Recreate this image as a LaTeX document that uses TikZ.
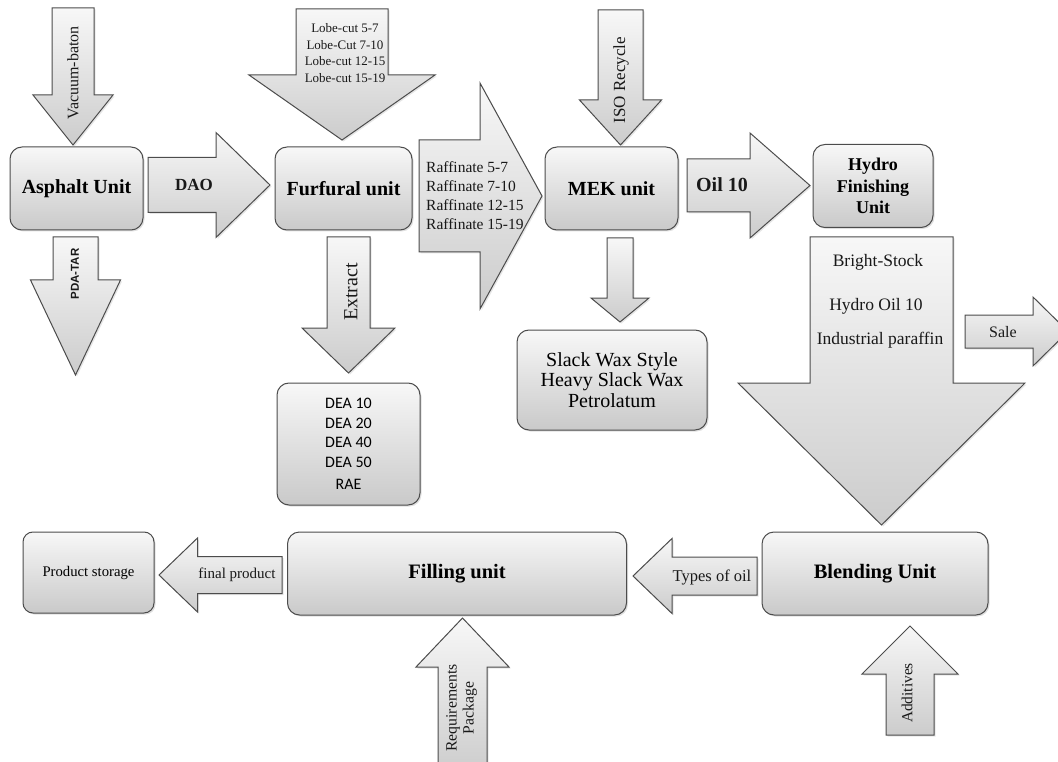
\documentclass[tikz,border=0pt]{standalone}
\usepackage{fontspec}
\setmainfont{Liberation Serif}
\newfontfamily\arialfont{Liberation Sans}
\newfontfamily\calibrifont{Carlito}
\usetikzlibrary{shadows}

\tikzset{
  unit/.style={draw=black!70, line width=1pt, rounded corners=12pt,
    top color=gray!6, bottom color=gray!42, align=center, inner sep=0pt,
    drop shadow={opacity=0.25, shadow xshift=1.5pt, shadow yshift=-1.5pt}},
  blockarrow/.style={draw=black!70, line width=1pt, line join=miter,
    top color=gray!6, bottom color=gray!40,
    drop shadow={opacity=0.2, shadow xshift=1.5pt, shadow yshift=-1.5pt}},
  lbl/.style={inner sep=0pt, align=center, text=black!90},
}
\newcommand\fs[2]{\fontsize{#1}{#2}\selectfont}
% block arrows: centre line, tail, head base, tip, shaft half width, head half width
\newcommand\varrow[6]{\path[blockarrow] ({#1-#5},#2) -- ({#1-#5},#3) -- ({#1-#6},#3)
  -- (#1,#4) -- ({#1+#6},#3) -- ({#1+#5},#3) -- ({#1+#5},#2) -- cycle;}
\newcommand\harrow[6]{\path[blockarrow] (#2,{#1-#5}) -- (#3,{#1-#5}) -- (#3,{#1-#6})
  -- (#4,#1) -- (#3,{#1+#6}) -- (#3,{#1+#5}) -- (#2,{#1+#5}) -- cycle;}

\begin{document}
\begin{tikzpicture}[x=1pt,y=-1pt]
\useasboundingbox (0,0) rectangle (1058,762);
\clip (0,0) rectangle (1058,762);

% process units
\node[unit, minimum width=133pt, minimum height=83pt, font=\fs{20}{24}\bfseries]
  (asphalt) at (76.5,188.5) {Asphalt Unit};
\node[unit, minimum width=137pt, minimum height=83pt, font=\fs{20}{24}\bfseries]
  (furfural) at (343.5,188.5) {Furfural unit};
\node[unit, minimum width=133pt, minimum height=83pt, font=\fs{20}{24}\bfseries]
  (mek) at (611.5,188.5) {MEK unit};
\node[unit, minimum width=120pt, minimum height=83pt, font=\fs{18}{21.5}\bfseries]
  (hydro) at (873,186) {Hydro\\Finishing\\Unit};
\node[unit, minimum width=143pt, minimum height=122pt, font=\calibrifont\fs{16}{19.5}]
  (dea) at (348.5,444) {DEA 10\\DEA 20\\DEA 40\\DEA 50\\[3pt]RAE};
\node[unit, minimum width=190pt, minimum height=100pt, font=\fs{20}{20.5}]
  (wax) at (612,380) {Slack Wax Style\\Heavy Slack Wax\\Petrolatum};
\node[unit, rounded corners=10pt, minimum width=131pt, minimum height=81pt, font=\fs{14.7}{17}]
  (storage) at (88.5,572.5) {Product storage};
\node[unit, minimum width=339pt, minimum height=83pt, font=\fs{20.5}{24}\bfseries]
  (filling) at (457,573.5) {Filling unit};
\node[unit, minimum width=226pt, minimum height=83pt, font=\fs{20.5}{24}\bfseries]
  (blending) at (875,573.5) {Blending Unit};

% flows
\varrow{73}{8}{95}{145}{21}{40}
\varrow{75.5}{237}{280}{375}{22.5}{45}
\harrow{185}{148}{216}{270}{27.5}{52.5}
\varrow{342}{9}{75}{140}{46}{93}
\harrow{196}{419}{480}{542}{56}{113}
\varrow{348.5}{237}{328}{373}{21.5}{46.5}
\varrow{620.5}{10}{100}{145}{22.5}{41}
\harrow{185.5}{687}{750}{810}{26.5}{52.5}
\varrow{620}{238}{298}{322}{13}{29}
\varrow{881.5}{237}{383}{525}{71.5}{143.5}
\harrow{331.5}{965}{1033}{1068}{16.5}{34.5}
\harrow{575}{282}{197.5}{159}{18.5}{37}
\harrow{576}{757}{672}{633}{19}{37.5}
\varrow{462.5}{775}{667}{618}{24.5}{46.5}
\varrow{910}{735}{674}{626}{24}{48}

% flow labels
\node[lbl, rotate=90, font=\fs{16}{19}] (vacuum) at (73,73) {Vacuum-baton};
\node[lbl, rotate=90, font=\arialfont\bfseries\fs{11.5}{14}] (pdatar) at (75,274) {PDA-TAR};
\node[lbl, font=\fs{17}{20}\bfseries] (dao) at (194,185) {DAO};
\node[lbl, font=\fs{13}{16.7}] (lobecut) at (345,53)
  {Lobe-cut 5-7\\Lobe-Cut 7-10\\Lobe-cut 12-15\\Lobe-cut 15-19};
\node[lbl, align=left, anchor=west, font=\fs{15.5}{19}] (raff) at (426,196)
  {Raffinate 5-7\\Raffinate 7-10\\Raffinate 12-15\\Raffinate 15-19};
\node[lbl, rotate=90, font=\fs{20}{24}] (extract) at (351,292) {Extract};
\node[lbl, rotate=90, font=\fs{17}{20}] (iso) at (621,80) {ISO Recycle};
\node[lbl, font=\fs{20}{24}\bfseries] (oil) at (722,185) {Oil 10};
\node[lbl, font=\fs{17.5}{20}] (bright) at (878,262) {Bright-Stock};
\node[lbl, font=\fs{17.5}{20}] (hydrooil) at (876,306) {Hydro Oil 10};
\node[lbl, font=\fs{17.5}{20}] (paraffin) at (880,340) {Industrial paraffin};
\node[lbl, font=\fs{16}{19}] (sale) at (1003,332) {Sale};
\node[lbl, font=\fs{15}{18}] (final) at (237,575) {final product};
\node[lbl, font=\fs{16.5}{19}] (types) at (712,577) {Types of oil};
\node[lbl, rotate=90, font=\fs{15.7}{17}] (package) at (461.5,708) {Requirements\\Package};
\node[lbl, rotate=90, font=\fs{15.4}{18}] (additives) at (907,693) {Additives};
\end{tikzpicture}
\end{document}
